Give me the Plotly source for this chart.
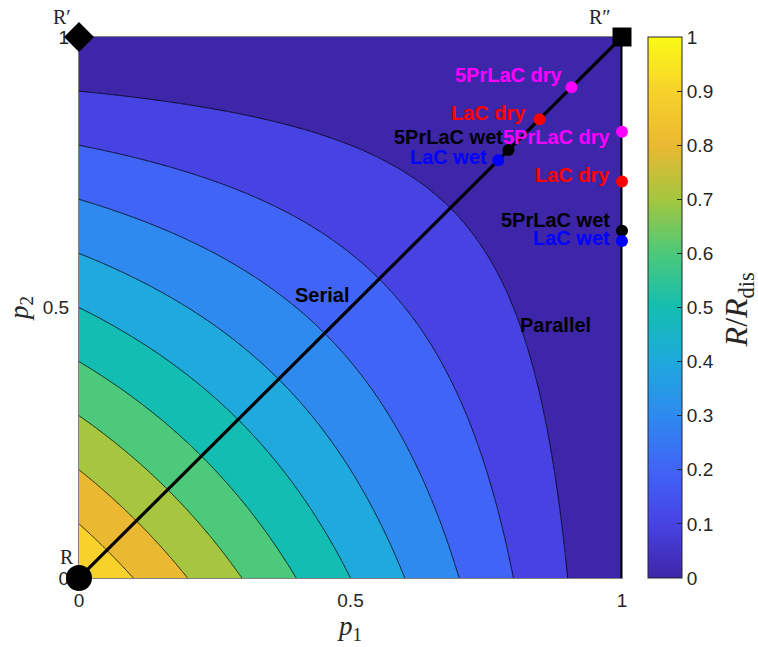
import numpy as np
import plotly.graph_objects as go

# ---------------- data ----------------
# R/R_dis along the p1 axis (p2 = 0): contour crossings at 0.1 steps
p_edge = [0.0, 0.1, 0.2, 0.3, 0.4, 0.5, 0.6, 0.7, 0.8, 0.9, 1.0]
r_edge = [1.0, 0.9, 0.8, 0.7, 0.6, 0.5, 0.4, 0.3, 0.2, 0.1, 0.0]
contour_levels = [0.1, 0.2, 0.3, 0.4, 0.5, 0.6, 0.7, 0.8, 0.9]

sample_names = ["5PrLaC dry", "LaC dry", "5PrLaC wet", "LaC wet"]
sample_colors = ["#FF00FF", "#FF0000", "#000000", "#0000FF"]
serial_p = [0.907, 0.848, 0.791, 0.772]        # points on the serial diagonal p1 = p2
parallel_p2 = [0.825, 0.733, 0.642, 0.623]     # points on the parallel edge p1 = 1

serial_line_p = [0.0, 1.0]
parallel_line_p2 = [0.0, 1.0]

corner_p1 = [0.0, 0.0, 1.0]
corner_p2 = [0.0, 1.0, 1.0]
corner_labels = ["R", "R′", "R″"]

axis_ticks = [0, 0.5, 1]
axis_ticktext = ["0", "0.5", "1"]
cbar_ticks = [0, 0.1, 0.2, 0.3, 0.4, 0.5, 0.6, 0.7, 0.8, 0.9, 1.0]
cbar_ticktext = ["0", "0.1", "0.2", "0.3", "0.4", "0.5", "0.6", "0.7", "0.8", "0.9", "1"]

# ---------------- styles ----------------
parula_hex = ["#3E26A8", "#4743E3", "#4064F5", "#2E8AEF", "#1FA9DD", "#14BDB1",
              "#4CC97A", "#A5C63E", "#EBB832", "#F8D22B", "#F9FB15"]
parula = [[i / 10, c] for i, c in enumerate(parula_hex)]

serial_shift = [(-7, 12), (-11, 6), (-4, 13), (-9, 3)]
parallel_shift = [(-9, -5), (-10, 6), (-10, 11), (-10, 3)]
corner_symbols = ["circle", "diamond", "square"]
corner_sizes = [26, 23, 19]

sans = "Liberation Sans, Arial, Helvetica, sans-serif"
serif = "Liberation Serif, Times New Roman, serif"
tick_col = "#262626"
label_size = 20
tick_size = 19

# ---------------- field ----------------
g = np.linspace(0.0, 1.0, 601)
m = np.interp(g, p_edge, r_edge)
Z = np.outer(m, m)
Zq = np.clip(np.floor(Z * 10 + 1e-9) / 10, 0, 0.9)

fig = go.Figure()

fig.add_trace(go.Heatmap(
    x=g, y=g, z=Zq, colorscale=parula, zmin=0, zmax=1, hoverinfo="skip",
    colorbar=dict(
        x=1.048, xanchor="left", y=0.5, yanchor="middle", len=1, lenmode="fraction",
        thickness=34, thicknessmode="pixels", xpad=0, ypad=0,
        outlinewidth=1, outlinecolor=tick_col,
        ticks="inside", ticklen=5, tickcolor=tick_col,
        tickvals=cbar_ticks, ticktext=cbar_ticktext,
        tickfont=dict(family=sans, size=tick_size, color=tick_col),
    ),
))

fig.add_trace(go.Contour(
    x=g, y=g, z=Z, showscale=False, hoverinfo="skip",
    contours=dict(coloring="none", start=contour_levels[0], end=contour_levels[-1],
                  size=round(contour_levels[1] - contour_levels[0], 6)),
    line=dict(color="black", width=0.8),
))

fig.add_trace(go.Scatter(x=serial_line_p, y=serial_line_p, mode="lines",
                         line=dict(color="black", width=3.2), cliponaxis=False,
                         showlegend=False, hoverinfo="skip"))
fig.add_trace(go.Scatter(x=[1.0] * len(parallel_line_p2), y=parallel_line_p2, mode="lines",
                         line=dict(color="black", width=3.2), cliponaxis=False,
                         showlegend=False, hoverinfo="skip"))

fig.add_trace(go.Scatter(x=corner_p1, y=corner_p2, mode="markers", cliponaxis=False,
                         marker=dict(symbol=corner_symbols, size=corner_sizes, color="black",
                                     opacity=1, line=dict(width=0)),
                         showlegend=False, hoverinfo="skip"))

fig.add_trace(go.Scatter(x=serial_p, y=serial_p, mode="markers", cliponaxis=False,
                         marker=dict(size=12, color=sample_colors, opacity=1, line=dict(width=0)),
                         showlegend=False))
fig.add_trace(go.Scatter(x=[1.0] * len(parallel_p2), y=parallel_p2, mode="markers",
                         cliponaxis=False,
                         marker=dict(size=12, color=sample_colors, opacity=1, line=dict(width=0)),
                         showlegend=False))

ann = []
for name, col, p, (dx, dy) in zip(sample_names, sample_colors, serial_p, serial_shift):
    ann.append(dict(x=p, y=p, text="<b>%s</b>" % name, showarrow=False, xanchor="right",
                    yanchor="middle", xshift=dx, yshift=dy,
                    font=dict(family=sans, size=label_size, color=col)))
for name, col, p, (dx, dy) in zip(sample_names, sample_colors, parallel_p2, parallel_shift):
    ann.append(dict(x=1.0, y=p, text="<b>%s</b>" % name, showarrow=False, xanchor="right",
                    yanchor="middle", xshift=dx, yshift=dy,
                    font=dict(family=sans, size=label_size, color=col)))

corner_shift = [(-3, 8), (-6, 7), (-9, 7)]
for lab, x, y, (dx, dy) in zip(corner_labels, corner_p1, corner_p2, corner_shift):
    ann.append(dict(x=x, y=y, text=lab, showarrow=False, xanchor="right", yanchor="bottom",
                    xshift=dx, yshift=dy, font=dict(family=serif, size=20, color=tick_col)))

ann.append(dict(x=0.447, y=0.523, text="<b>Serial</b>", showarrow=False,
                font=dict(family=sans, size=label_size, color="black")))
ann.append(dict(x=0.878, y=0.468, text="<b>Parallel</b>", showarrow=False,
                font=dict(family=sans, size=label_size, color="black")))

# colour-bar title
ann.append(dict(x=1.214, y=0.495, xref="paper", yref="paper", textangle=-90,
                text="<i>R</i>/<i>R</i><sub>dis</sub>", showarrow=False,
                xanchor="center", yanchor="middle",
                font=dict(family=serif, size=32, color=tick_col)))

axis_common = dict(range=[0, 1], tickvals=axis_ticks, ticktext=axis_ticktext,
                   ticks="inside", ticklen=5, tickcolor=tick_col, showline=True,
                   linecolor="#808080", linewidth=1, mirror="ticks", showgrid=False,
                   zeroline=False, layer="below traces", ticklabelstandoff=5,
                   tickfont=dict(family=sans, size=tick_size, color=tick_col))

fig.update_layout(
    width=758, height=647, autosize=False,
    margin=dict(l=79, r=136, t=37, b=69, autoexpand=False),
    paper_bgcolor="white", plot_bgcolor="white",
    xaxis=dict(**axis_common,
               title=dict(text="<i>p</i><sub>1</sub>", standoff=6,
                          font=dict(family=serif, size=27, color=tick_col))),
    yaxis=dict(**axis_common,
               title=dict(text="<i>p</i><sub>2</sub>", standoff=6,
                          font=dict(family=serif, size=27, color=tick_col))),
    annotations=ann,
    showlegend=False,
)

fig.write_html("out.html")
